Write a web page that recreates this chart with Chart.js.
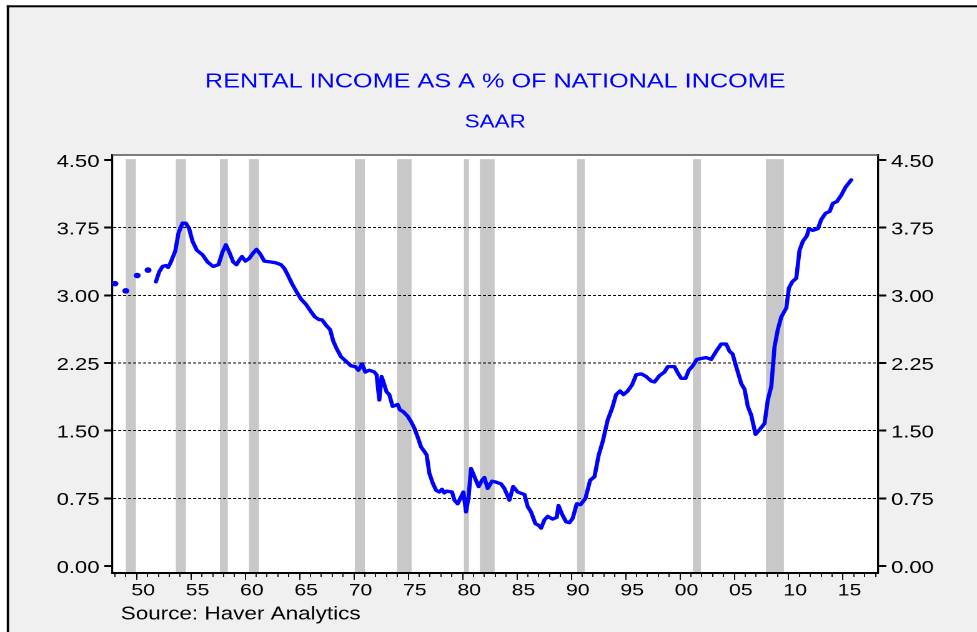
<!DOCTYPE html>
<html>
<head>
<meta charset="utf-8">
<script src="https://cdn.jsdelivr.net/npm/chart.js@4.4.1/dist/chart.umd.min.js"></script>
<style>
  html, body { margin: 0; padding: 0; background: #ffffff; overflow: hidden; }
  #wrap { width: 782px; height: 632px; transform: scaleX(1.24936); transform-origin: 0 0; }
</style>
</head>
<body>
<div id="wrap"><canvas id="c" width="782" height="632"></canvas></div>
<script>
// ---------------- data ----------------
const TITLE = 'RENTAL INCOME AS A % OF NATIONAL INCOME';
const SUBTITLE = 'SAAR';
const SOURCE = 'Source: Haver Analytics';

// early annual observations (drawn as dots)
const ANNUAL_YEARS  = [1948.0, 1949.0, 1950.05, 1951.05];
const ANNUAL_VALUES = [3.13, 3.05, 3.22, 3.28];

// quarterly series
const YEARS = [
  1951.77,1952.07,1952.38,1952.69,1952.90,1953.15,1953.55,1953.85,1954.22,1954.53,
  1954.83,1955.14,1955.54,1956.06,1956.52,1957.04,1957.53,1957.90,1958.21,1958.52,
  1958.89,1959.19,1959.44,1959.69,1960.00,1960.36,1960.73,1961.03,1961.37,1961.74,
  1962.36,1962.82,1963.28,1963.58,1963.89,1964.29,1964.71,1965.12,1965.58,1966.04,
  1966.41,1966.80,1967.05,1967.42,1967.80,1968.10,1968.40,1968.80,1969.26,1969.72,
  1970.12,1970.40,1970.74,1971.04,1971.41,1971.87,1972.08,1972.33,1972.54,1972.79,
  1973.00,1973.25,1973.55,1974.02,1974.23,1974.54,1974.94,1975.25,1975.55,1975.86,
  1976.17,1976.47,1976.69,1976.93,1977.24,1977.55,1977.85,1978.10,1978.31,1978.53,
  1979.02,1979.24,1979.54,1979.79,1980.07,1980.31,1980.55,1980.77,1981.08,1981.47,
  1981.78,1982.00,1982.30,1982.71,1983.07,1983.53,1983.84,1984.30,1984.65,1985.06,
  1985.52,1985.70,1985.98,1986.29,1986.69,1987.00,1987.22,1987.52,1987.83,1988.29,
  1988.66,1988.82,1989.16,1989.52,1989.83,1990.13,1990.50,1990.85,1991.30,1991.73,
  1992.13,1992.52,1992.89,1993.35,1993.76,1994.12,1994.49,1994.80,1995.19,1995.60,
  1995.97,1996.43,1996.89,1997.35,1997.65,1998.11,1998.57,1998.88,1999.49,1999.80,
  2000.11,2000.51,2000.81,2001.12,2001.55,2001.95,2002.41,2002.87,2003.33,2003.79,
  2004.25,2004.56,2004.84,2005.17,2005.42,2005.64,2005.94,2006.24,2006.56,2006.95,
  2007.32,2007.78,2008.08,2008.40,2008.70,2009.00,2009.32,2009.78,2010.02,2010.33,
  2010.70,2011.00,2011.31,2011.68,2011.86,2012.23,2012.69,2013.00,2013.40,2013.77,
  2014.07,2014.44,2014.84,2015.24,2015.76
];
const VALUES = [
  3.15,3.26,3.32,3.33,3.31,3.37,3.49,3.69,3.80,3.80,
  3.74,3.60,3.50,3.45,3.37,3.32,3.34,3.48,3.56,3.48,
  3.37,3.34,3.39,3.43,3.38,3.41,3.47,3.51,3.46,3.38,
  3.37,3.36,3.34,3.30,3.23,3.13,3.04,2.96,2.90,2.82,
  2.76,2.73,2.73,2.67,2.62,2.49,2.41,2.32,2.27,2.22,
  2.21,2.17,2.24,2.15,2.17,2.15,2.12,1.84,2.10,2.01,
  1.93,1.90,1.77,1.79,1.73,1.71,1.66,1.60,1.53,1.43,
  1.32,1.27,1.23,1.03,0.92,0.84,0.82,0.85,0.81,0.83,
  0.82,0.73,0.69,0.75,0.82,0.60,0.77,1.08,0.99,0.88,
  0.95,0.98,0.86,0.94,0.93,0.91,0.86,0.73,0.88,0.82,
  0.80,0.79,0.66,0.60,0.47,0.45,0.42,0.51,0.55,0.52,
  0.54,0.67,0.57,0.49,0.48,0.53,0.69,0.68,0.75,0.95,
  0.99,1.23,1.38,1.62,1.75,1.90,1.94,1.90,1.94,2.01,
  2.12,2.13,2.10,2.05,2.04,2.11,2.15,2.21,2.21,2.14,
  2.08,2.08,2.17,2.21,2.29,2.30,2.31,2.29,2.38,2.46,
  2.46,2.38,2.35,2.21,2.11,2.02,1.96,1.77,1.67,1.46,
  1.51,1.58,1.84,1.99,2.43,2.62,2.76,2.86,3.08,3.15,
  3.19,3.50,3.60,3.66,3.74,3.72,3.74,3.84,3.91,3.93,
  4.02,4.04,4.11,4.20,4.28
];

// recession shading (start / end, in years)
const REC_START = [1949.01, 1953.61, 1957.66, 1960.33, 1970.08, 1973.97, 1980.12, 1981.59, 1990.53, 2001.19, 2007.91];
const REC_END   = [1949.93, 1954.53, 1958.39, 1961.25, 1971.00, 1975.30, 1980.58, 1982.94, 1991.23, 2001.93, 2009.56];

// axis ticks
const Y_TICKS = [0, 0.75, 1.5, 2.25, 3.0, 3.75, 4.5];
const YEAR_TICKS = Array.from({length: 71}, (_, i) => 1948 + i);      // 1948..2018
const LABEL_YEARS = [1950,1955,1960,1965,1970,1975,1980,1985,1990,1995,2000,2005,2010,2015];

// ---------------- layout constants ----------------
const X_MIN = 1947.75, X_MAX = 2018.25;
const Y_MIN = -0.0776, Y_MAX = 4.5554;
const LABEL_SHIFT = 0.6;
const SHADE_TOP = 4.51;
const FONT = "'Liberation Sans', Arial, Helvetica, sans-serif";

const frame = {
  id: 'frame',
  beforeDraw(chart) {
    const {ctx, chartArea: a, scales} = chart;
    const W = chart.width, H = chart.height;
    ctx.save();
    ctx.fillStyle = '#ffffff';
    ctx.fillRect(0, 0, W, H);
    ctx.fillStyle = '#f0f0f0';
    ctx.fillRect(5.4, 5.3, W, H);
    ctx.fillStyle = '#000000';
    ctx.fillRect(5.4, 5.3, 1.9, H);
    ctx.fillRect(5.4, 5.3, W, 2);
    ctx.fillStyle = '#ffffff';
    ctx.fillRect(a.left, a.top, a.right - a.left, a.bottom - a.top);
    const xs = scales.x, ys = scales.y;
    const top = ys.getPixelForValue(SHADE_TOP);
    ctx.fillStyle = '#c8c8c8';
    for (let i = 0; i < REC_START.length; i++) {
      const x1 = xs.getPixelForValue(REC_START[i]);
      const x2 = xs.getPixelForValue(REC_END[i]);
      ctx.fillRect(x1, top, x2 - x1, a.bottom - top);
    }
    ctx.restore();
  },
  afterDraw(chart) {
    const {ctx, chartArea: a} = chart;
    ctx.save();
    ctx.strokeStyle = '#555555';
    ctx.lineWidth = 1.5;
    ctx.beginPath();
    ctx.moveTo(a.left, a.top);
    ctx.lineTo(a.right, a.top);
    ctx.stroke();
    ctx.fillStyle = '#000000';
    ctx.font = '18px ' + FONT;
    ctx.textBaseline = 'alphabetic';
    ctx.textAlign = 'left';
    ctx.fillText(SOURCE, 96.6, 619.3);
    ctx.restore();
  }
};

const lineData = YEARS.map((x, i) => ({x, y: VALUES[i]}));
const dotData = ANNUAL_YEARS.map((x, i) => ({x, y: ANNUAL_VALUES[i]}));

const gridColor = (ctx) => (ctx.tick && (ctx.tick.value === 0 || ctx.tick.value === 4.5)) ? 'rgba(0,0,0,0)' : '#000000';

new Chart(document.getElementById('c'), {
  type: 'line',
  data: {
    datasets: [
      {
        data: lineData,
        borderColor: '#0000ff',
        borderWidth: 3.3,
        pointRadius: 0,
        tension: 0,
        borderJoinStyle: 'round',
        borderCapStyle: 'round',
        fill: false
      },
      {
        data: dotData,
        showLine: false,
        pointRadius: 2.8,
        pointBackgroundColor: '#0000ff',
        pointBorderWidth: 0,
        borderColor: '#0000ff'
      }
    ]
  },
  options: {
    responsive: false,
    devicePixelRatio: 2,
    animation: false,
    events: [],
    layout: { padding: 0 },
    plugins: {
      legend: { display: false },
      tooltip: { enabled: false },
      title: {
        display: true, text: TITLE, color: '#0000ff', fullSize: false,
        font: { family: FONT, size: 20.2, weight: 'normal', lineHeight: 1.2 },
        padding: { top: 70, bottom: 0 }
      },
      subtitle: {
        display: true, text: SUBTITLE, color: '#0000ff', fullSize: false,
        font: { family: FONT, size: 18, weight: 'normal', lineHeight: 1.2 },
        padding: { top: 17.7, bottom: 21.5 }
      }
    },
    scales: {
      x: {
        type: 'linear', position: 'bottom', min: X_MIN, max: X_MAX, weight: 0,
        afterBuildTicks: s => { s.ticks = YEAR_TICKS.map(v => ({value: v})); },
        afterFit: s => { s.height = 0; },
        ticks: { display: false },
        grid: { display: true, drawOnChartArea: false, drawTicks: true, tickLength: 4, tickWidth: 0.9, tickColor: '#000000', color: '#000000', tickBorderDash: [] },
        border: { display: true, color: '#000000', width: 2 }
      },
      xMaj: {
        type: 'linear', position: 'bottom', min: X_MIN, max: X_MAX, weight: 1,
        afterBuildTicks: s => { s.ticks = LABEL_YEARS.map(v => ({value: v})); },
        afterFit: s => { s.height = 0; },
        ticks: { display: false },
        grid: { display: true, drawOnChartArea: false, drawTicks: true, tickLength: 7, tickWidth: 0.9, tickColor: '#000000', color: '#000000', tickBorderDash: [] },
        border: { display: false }
      },
      xLab: {
        type: 'linear', position: 'bottom', min: X_MIN - LABEL_SHIFT, max: X_MAX - LABEL_SHIFT, weight: 2,
        afterBuildTicks: s => { s.ticks = LABEL_YEARS.map(v => ({value: v})); },
        afterFit: s => { s.height = 59; },
        ticks: {
          display: true, autoSkip: false, maxRotation: 0, minRotation: 0, padding: 7.6,
          color: '#000000', font: { family: FONT, size: 17 },
          callback: v => String(v).slice(2)
        },
        grid: { display: false, drawTicks: false },
        border: { display: false }
      },
      y: {
        type: 'linear', position: 'left', min: Y_MIN, max: Y_MAX,
        afterBuildTicks: s => { s.ticks = Y_TICKS.map(v => ({value: v})); },
        afterFit: s => { s.width = 89.8; },
        ticks: {
          padding: 3.8, labelOffset: 2, color: '#000000', font: { family: FONT, size: 17.6 },
          callback: v => Number(v).toFixed(2)
        },
        grid: { display: true, drawOnChartArea: true, drawTicks: true, color: gridColor, lineWidth: 1, tickLength: 6.4, tickWidth: 2, tickColor: '#000000', tickBorderDash: [] },
        border: { display: true, color: '#000000', width: 1.6, dash: [2.4, 1.6] }
      },
      y2: {
        type: 'linear', position: 'right', min: Y_MIN, max: Y_MAX,
        afterBuildTicks: s => { s.ticks = Y_TICKS.map(v => ({value: v})); },
        afterFit: s => { s.width = 79.0; },
        ticks: {
          padding: 3.8, labelOffset: 2, color: '#000000', font: { family: FONT, size: 17.6 },
          callback: v => Number(v).toFixed(2)
        },
        grid: { display: true, drawOnChartArea: false, drawTicks: true, tickLength: 6.4, tickWidth: 2, tickColor: '#000000', color: '#000000', tickBorderDash: [] },
        border: { display: true, color: '#000000', width: 1.6 }
      }
    }
  },
  plugins: [frame]
});
</script>
</body>
</html>
